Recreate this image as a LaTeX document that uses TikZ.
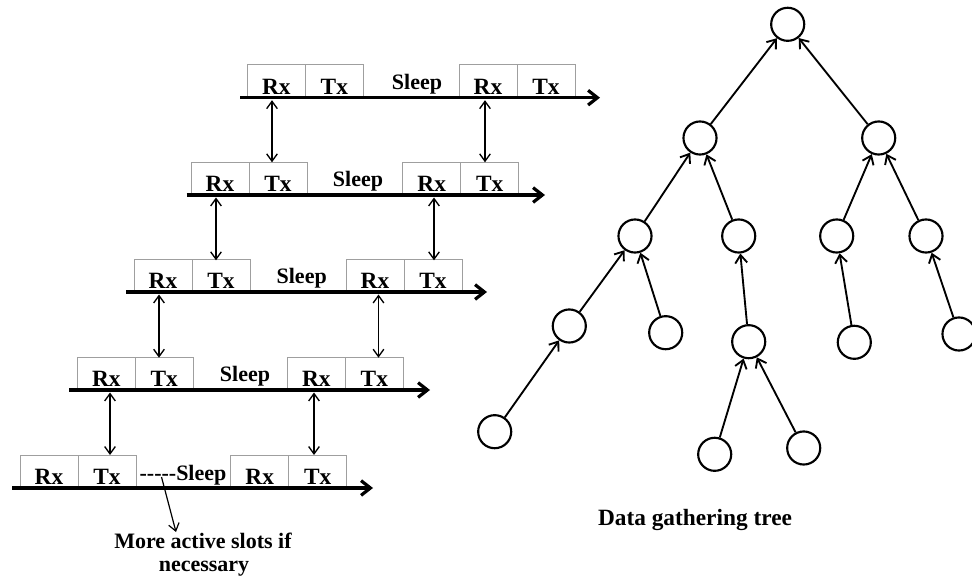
\documentclass[tikz,border=0pt]{standalone}
\usepackage{fontspec}
\setmainfont{Liberation Serif}
\usetikzlibrary{arrows.meta}
\begin{document}
\begin{tikzpicture}[x=0.75pt,y=-0.75pt,
  slot/.style={draw=gray!75, line width=0.7pt, minimum width=43.5pt, minimum height=24.75pt,
    inner sep=0pt, outer sep=0pt, text height=19.5pt, text depth=0pt,
    font=\fontsize{17.5}{20}\selectfont\bfseries, anchor=south west},
  axis/.style={line width=2.4pt, -{Straight Barb[length=7pt,width=11pt]}},
  link/.style={line width=1pt, {Straight Barb[length=5.5pt,width=8pt]}-{Straight Barb[length=5.5pt,width=8pt]}},
  pointer/.style={line width=0.9pt, -{Straight Barb[length=5.5pt,width=8pt]}},
  tnode/.style={circle, draw, line width=1.6pt, minimum size=24.8pt, inner sep=0pt},
  tedge/.style={line width=1.4pt, -{Straight Barb[length=6pt,width=9pt]}},
  lbl/.style={font=\fontsize{16.5}{20}\selectfont\bfseries, anchor=base, inner sep=0pt}
]
\useasboundingbox (0,0) rectangle (972,577);

% timelines
\foreach \r/\a/\b/\y/\s/\e in {1/247.3/459/97.7/240/600, 2/191/402.7/195/186.7/545, 3/134/346/292/126/487, 4/77.3/287.3/390/69.3/430, 5/20/230.7/488/12/373}{
  \node[slot] (rxA\r) at (\a,\y) {Rx};
  \node[slot] (txA\r) at (rxA\r.south east) {Tx};
  \node[slot] (rxB\r) at (\b,\y) {Rx};
  \node[slot] (txB\r) at (rxB\r.south east) {Tx};
  \coordinate (s\r) at (\s,\y);
  \coordinate (e\r) at (\e,\y);
  \draw[axis] (s\r) -- (e\r);
}
\node[lbl] (sl1) at (417,89.2) {Sleep};
\node[lbl] (sl2) at (358,186.5) {Sleep};
\node[lbl] (sl3) at (301.7,283.5) {Sleep};
\node[lbl] (sl4) at (245,381.5) {Sleep};
\node[lbl] (sl5) at (183,480) {-{}-{}-{}-{}-Sleep};

% vertical links
\foreach \r/\xa/\xb/\yt/\yb in {1/272/485/97.7/162.3, 2/216/434/195/260.3, 3/159/378.5/292/357.7, 4/110/314/390/455}{
  \coordinate (ua\r) at (\xa,{\yt+2.5});
  \coordinate (la\r) at (\xa,\yb);
  \coordinate (ub\r) at (\xb,{\yt+2.5});
  \coordinate (lb\r) at (\xb,\yb);
  \draw[link] (ua\r) -- (la\r);
  \draw[link] (ub\r) -- (lb\r);
}

% note
\coordinate (dstart) at (161.5,477);
\coordinate (dend) at (176,532);
\draw[pointer] (dstart) -- (dend);
\node[lbl] (more1) at (203,548) {More active slots if};
\node[lbl] (more2) at (204,571.5) {necessary};

% tree
\node[tnode] (t0) at (787.7,24.3) {};
\node[tnode] (t1) at (700,138) {};
\node[tnode] (t2) at (878.7,138) {};
\node[tnode] (t3) at (635,236) {};
\node[tnode] (t4) at (738.7,236) {};
\node[tnode] (t5) at (836.7,236) {};
\node[tnode] (t6) at (926,236) {};
\node[tnode] (t7) at (569.3,326) {};
\node[tnode] (t8) at (665.7,332.7) {};
\node[tnode] (t9) at (748.7,341.7) {};
\node[tnode] (t10) at (854.3,342.3) {};
\node[tnode] (t11) at (959,334) {};
\node[tnode] (t12) at (494.7,431.7) {};
\node[tnode] (t13) at (714.7,454.3) {};
\node[tnode] (t14) at (803.7,448) {};
\foreach \c/\p in {t1/t0, t2/t0, t3/t1, t4/t1, t5/t2, t6/t2, t7/t3, t8/t3, t9/t4, t10/t5, t11/t6, t12/t7, t13/t9, t14/t9}{
  \draw[tedge] (\c) -- (\p);
}
\node[lbl, font=\fontsize{17.5}{20}\selectfont\bfseries] (cap) at (695,525.5) {Data gathering tree};
\end{tikzpicture}
\end{document}
